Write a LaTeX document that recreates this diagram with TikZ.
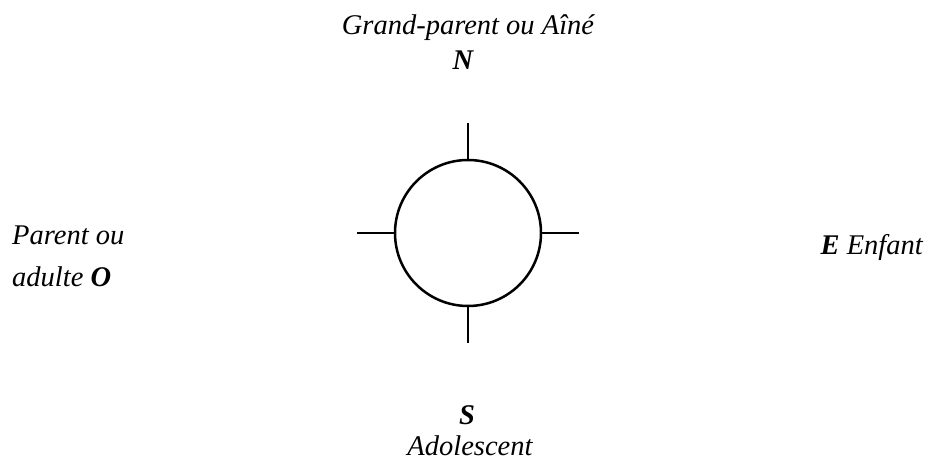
\documentclass[tikz,border=0pt]{standalone}
\usepackage{fontspec}
\setmainfont{Liberation Serif}
\begin{document}
\begin{tikzpicture}[x=1pt,y=1pt,
  lbl/.style={font=\fontsize{28.5}{32}\selectfont\itshape, inner sep=0pt},
  tick/.style={line width=2.5pt}]
\useasboundingbox (0,0) rectangle (928,460);
\node[circle, draw, line width=2.5pt, minimum size=146pt, inner sep=0pt] (c) at (468,227) {};
\coordinate (nt) at (468,337);
\coordinate (st) at (468,117);
\coordinate (wt) at (357,227);
\coordinate (et) at (579,227);
\draw[tick] (c.north) -- (nt);
\draw[tick] (c.south) -- (st);
\draw[tick] (c.west) -- (wt);
\draw[tick] (c.east) -- (et);
\node[lbl, anchor=base] (gp) at (468,425) {Grand-parent ou Aîné};
\node[lbl, anchor=base] (n) at (463,390) {\textbf{N}};
\node[lbl, anchor=base west] (p1) at (12,215) {Parent ou};
\node[lbl, anchor=base west] (p2) at (12,173) {adulte \textbf{O}};
\node[lbl, anchor=base east] (e) at (923,205) {\textbf{E} Enfant};
\node[lbl, anchor=base] (s) at (467,35) {\textbf{S}};
\node[lbl, anchor=base] (ad) at (470,5) {Adolescent};
\end{tikzpicture}
\end{document}
